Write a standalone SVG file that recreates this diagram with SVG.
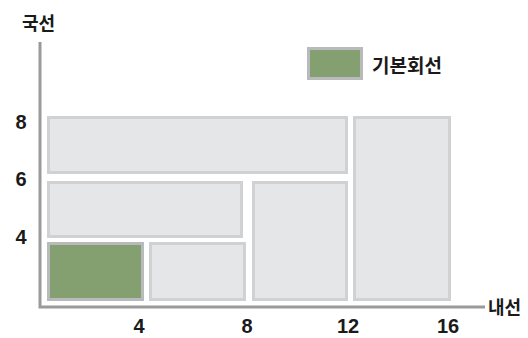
<svg xmlns="http://www.w3.org/2000/svg" width="528" height="338" viewBox="0 0 528 338">
<style>
.t{font-family:"Noto Sans CJK KR","Liberation Sans",sans-serif;font-weight:bold;font-size:18px;fill:#1a1a1a}
.n{font-family:"Liberation Sans",sans-serif;font-weight:bold;font-size:20px;fill:#1a1a1a;text-anchor:middle}
.box{fill:#e5e6e8;stroke:#d0d1d3;stroke-width:3}
.base{fill:#85a070;stroke:#b9babc;stroke-width:3}
.ax{stroke:#999a9c;stroke-width:3;fill:none}
</style>
<rect width="528" height="338" fill="#fff"/>
<g id="axes">
<path class="ax" d="M40,42 V307 H485"/>
</g>
<g id="labels">
<text class="t" x="22" y="30">국선</text>
<text class="t" x="488" y="314">내선</text>
<text class="n" x="21" y="129">8</text>
<text class="n" x="21" y="186">6</text>
<text class="n" x="21" y="244">4</text>
<text class="n" x="139" y="333">4</text>
<text class="n" x="247" y="333">8</text>
<text class="n" x="348" y="333">12</text>
<text class="n" x="448" y="333">16</text>
</g>
<g id="legend">
<rect class="base" x="308.5" y="48.5" width="53" height="30"/>
<text class="t" x="372" y="73" style="font-size:19px">기본회선</text>
</g>
<g id="r1"><rect class="box" x="48.5" y="117.5" width="298" height="55"/></g>
<g id="r2"><rect class="box" x="354.5" y="117.5" width="95" height="182"/></g>
<g id="r3"><rect class="box" x="48.5" y="182.5" width="193" height="54"/></g>
<g id="r4"><rect class="box" x="253.5" y="182.5" width="93" height="117"/></g>
<g id="r5"><rect class="base" x="48.5" y="243.5" width="94" height="56"/></g>
<g id="r6"><rect class="box" x="150.5" y="243.5" width="94" height="56"/></g>
</svg>
